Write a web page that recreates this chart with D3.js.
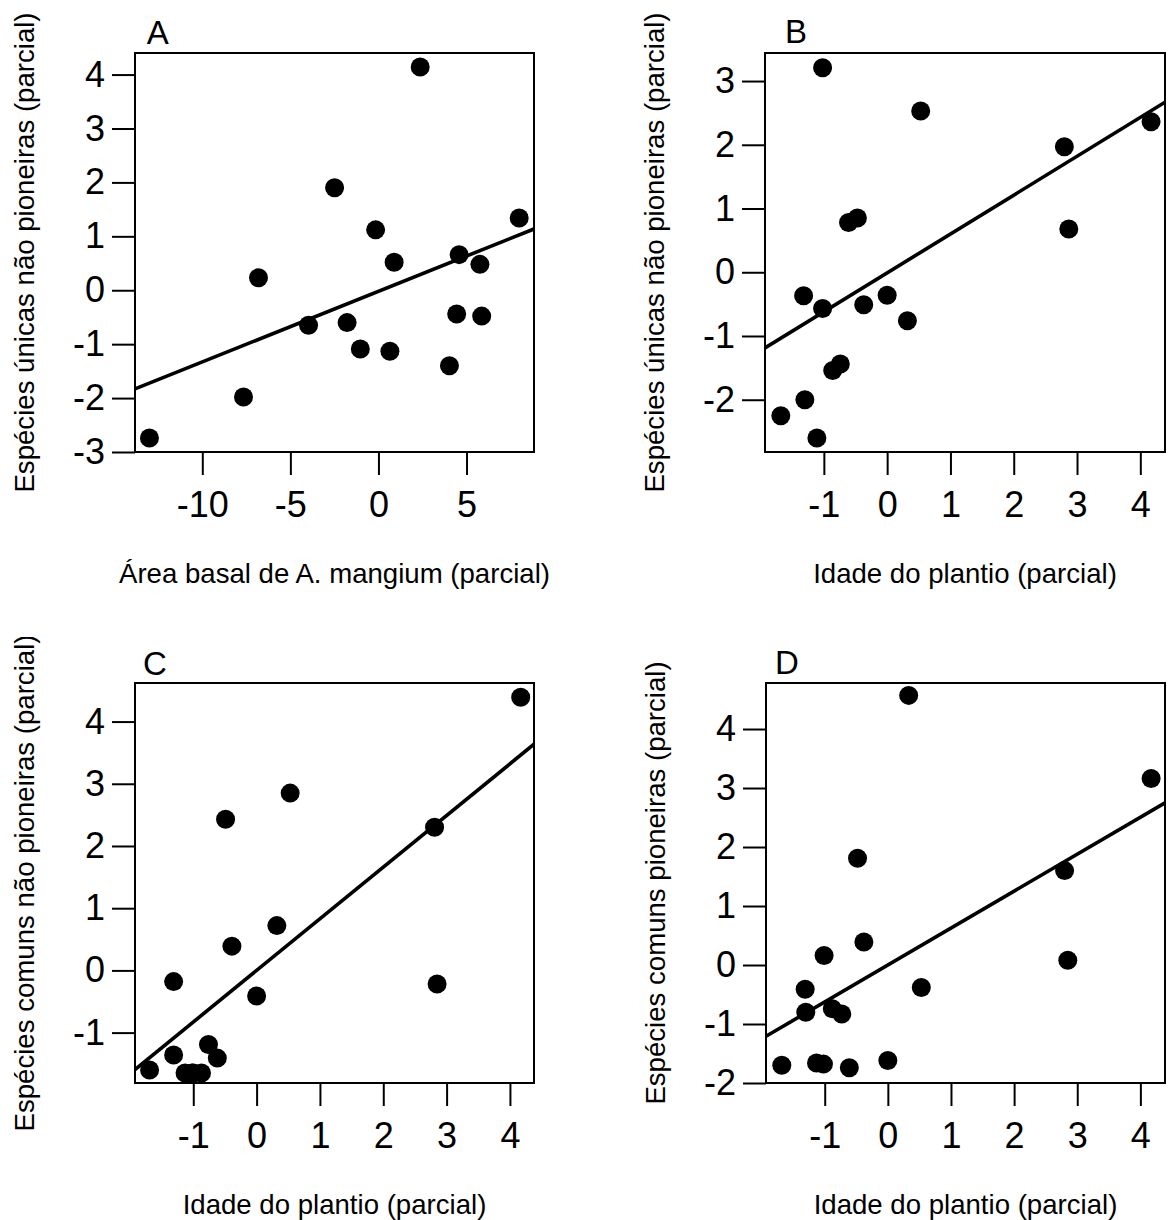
<!DOCTYPE html>
<html>
<head>
<meta charset="utf-8">
<script src="https://cdn.jsdelivr.net/npm/d3@7"></script>
<style>
  body { margin: 0; background: #fff; }
  text { font-family: "Liberation Sans", Arial, sans-serif; fill: #000; }
</style>
</head>
<body>
<svg id="chart" width="1171" height="1220"></svg>
<script>
// partial residuals
const xA = [-13.0, -7.66, -6.81, -3.97, -2.49, -1.78, -1.03, -0.16, 0.65, 0.89, 2.37, 4.03, 4.44, 4.58, 5.76, 5.86, 7.99];
const yA = [-2.74, -1.98, 0.23, -0.65, 1.90, -0.60, -1.09, 1.12, -1.13, 0.52, 4.14, -1.40, -0.44, 0.66, 0.48, -0.48, 1.34];

const xB = [-1.68, -1.30, -1.32, -1.11, -1.02, -1.02, -0.86, -0.74, -0.61, -0.47, -0.37, 0.0, 0.32, 0.53, 2.80, 2.87, 4.17];
const yB = [-2.25, -2.00, -0.37, -2.60, 3.21, -0.57, -1.54, -1.44, 0.78, 0.85, -0.51, -0.36, -0.76, 2.53, 1.97, 0.68, 2.36];

const xC = [-1.69, -1.31, -1.31, -1.13, -1.02, -1.00, -0.87, -0.76, -0.62, -0.49, -0.39, 0.0, 0.32, 0.53, 2.81, 2.85, 4.17];
const yC = [-1.60, -0.18, -1.36, -1.65, -1.65, -1.65, -1.65, -1.19, -1.41, 2.43, 0.39, -0.41, 0.72, 2.85, 2.30, -0.22, 4.39];

const xD = [-1.68, -1.31, -1.30, -1.13, -1.02, -1.01, -0.88, -0.73, -0.61, -0.48, -0.38, 0.0, 0.33, 0.53, 2.80, 2.85, 4.17];
const yD = [-1.70, -0.41, -0.80, -1.66, -1.68, 0.16, -0.74, -0.83, -1.74, 1.81, 0.39, -1.62, 4.57, -0.38, 1.60, 0.08, 3.16];

// fitted lines: [intercept, slope]
const fitA = [-0.02, 0.131];
const fitB = [-0.01, 0.61];
const fitC = [0.0, 0.83];
const fitD = [0.0, 0.626];

// axis limits
const xLimA = [-13.82, 8.83], yLimA = [-3.0, 4.40];
const xLimB = [-1.93, 4.39], yLimB = [-2.82, 3.44];
const xLimC = [-1.92, 4.38], yLimC = [-1.81, 4.62];
const xLimD = [-1.93, 4.39], yLimD = [-2.0, 4.78];

// ticks
const xTicksA = [-10, -5, 0, 5];
const yTicksA = [-3, -2, -1, 0, 1, 2, 3, 4];
const xTicksAge = [-1, 0, 1, 2, 3, 4];
const yTicksB = [-2, -1, 0, 1, 2, 3];
const yTicksC = [-1, 0, 1, 2, 3, 4];
const yTicksD = [-2, -1, 0, 1, 2, 3, 4];

const xTitles = ["Área basal de A. mangium (parcial)", "Idade do plantio (parcial)", "Idade do plantio (parcial)", "Idade do plantio (parcial)"];
const yTitles = ["Espécies únicas não pioneiras (parcial)", "Espécies únicas não pioneiras (parcial)", "Espécies comuns não pioneiras (parcial)", "Espécies comuns pioneiras (parcial)"];
const letters = ["A", "B", "C", "D"];

const panels = [
  { x: xA, y: yA, fit: fitA, xLim: xLimA, yLim: yLimA, xt: xTicksA, yt: yTicksA, box: [135, 53, 534, 452], lab: [146.7, 44.3], clipTop: 0 },
  { x: xB, y: yB, fit: fitB, xLim: xLimB, yLim: yLimB, xt: xTicksAge, yt: yTicksB, box: [765, 53, 1165, 452], lab: [785, 43.3], clipTop: 0 },
  { x: xC, y: yC, fit: fitC, xLim: xLimC, yLim: yLimC, xt: xTicksAge, yt: yTicksC, box: [135, 683, 534, 1083], lab: [143, 675], clipTop: 637 },
  { x: xD, y: yD, fit: fitD, xLim: xLimD, yLim: yLimD, xt: xTicksAge, yt: yTicksD, box: [766, 683, 1165, 1083], lab: [775, 673.6], clipTop: 0 }
];

let svg = d3.select("#chart");

panels.forEach((p, i) => {
  const [x0, y0, x1, y1] = p.box;
  let xScale = d3.scaleLinear().domain(p.xLim).range([x0, x1]);
  let yScale = d3.scaleLinear().domain(p.yLim).range([y1, y0]);

  let g = svg.append("g");

  // clip for the fitted line
  svg.append("clipPath").attr("id", "clip" + i)
    .append("rect").attr("x", x0).attr("y", y0).attr("width", x1 - x0).attr("height", y1 - y0);

  // axes
  let ya = g.append("g")
    .attr("transform", "translate(" + x0 + ",0)")
    .call(d3.axisLeft(yScale).tickValues(p.yt).tickFormat(d3.format("d")).tickSize(23).tickPadding(7));
  let xa = g.append("g")
    .attr("transform", "translate(0," + y1 + ")")
    .call(d3.axisBottom(xScale).tickValues(p.xt).tickFormat(d3.format("d")).tickSize(23).tickPadding(16));
  [xa, ya].forEach((a) => {
    a.select(".domain").remove();
    a.selectAll(".tick line").attr("stroke", "#000").attr("stroke-width", 2);
    a.selectAll(".tick text").style("font-size", "36px").attr("fill", "#000")
      .text((d) => (d < 0 ? "-" + Math.abs(d) : d));
  });

  // points
  g.append("g").selectAll("circle")
    .data(p.x.map((v, j) => ({ x: v, y: p.y[j] })))
    .enter()
    .append("circle")
    .attr("cx", (d) => xScale(d.x))
    .attr("cy", (d) => yScale(d.y))
    .attr("r", 9.5)
    .attr("fill", "#000");

  // fitted line
  let lineGen = d3.line().x((d) => xScale(d)).y((d) => yScale(p.fit[0] + p.fit[1] * d));
  g.append("path")
    .datum(p.xLim)
    .attr("d", lineGen)
    .attr("clip-path", "url(#clip" + i + ")")
    .attr("fill", "none")
    .attr("stroke", "#000")
    .attr("stroke-width", 3.6);

  // box
  g.append("rect")
    .attr("x", x0).attr("y", y0)
    .attr("width", x1 - x0).attr("height", y1 - y0)
    .attr("fill", "none").attr("stroke", "#000").attr("stroke-width", 2);

  // panel letter
  g.append("text")
    .attr("x", p.lab[0]).attr("y", p.lab[1])
    .style("font-size", "33px")
    .text(letters[i]);

  // x title
  g.append("text")
    .attr("x", (x0 + x1) / 2).attr("y", y1 + 131)
    .attr("text-anchor", "middle")
    .style("font-size", "27.6px")
    .text(xTitles[i]);

  // y title (bottom-left one is cut at the top of its figure region)
  let tg = g.append("g");
  if (p.clipTop) {
    svg.append("clipPath").attr("id", "tclip" + i)
      .append("rect").attr("x", 0).attr("y", p.clipTop).attr("width", 1171).attr("height", 600);
    tg.attr("clip-path", "url(#tclip" + i + ")");
  }
  tg.append("text")
    .attr("transform", "translate(" + (x0 - 101) + "," + (y0 + y1) / 2 + ") rotate(-90)")
    .attr("text-anchor", "middle")
    .style("font-size", "27.6px")
    .text(yTitles[i]);
});
</script>
</body>
</html>
